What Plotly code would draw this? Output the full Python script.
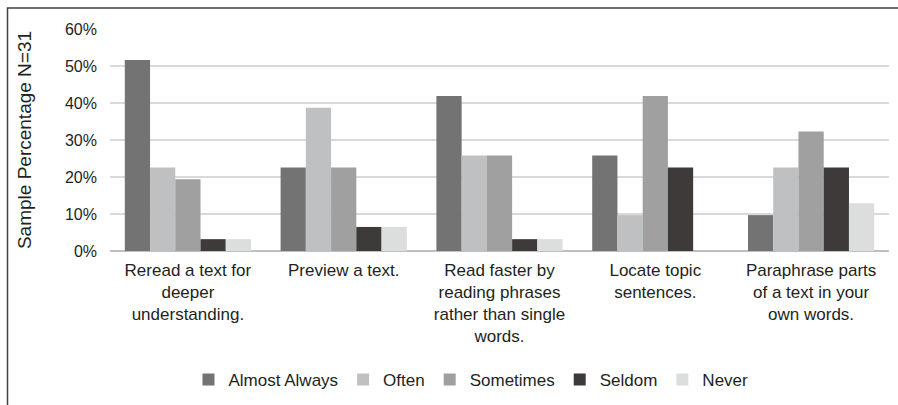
import plotly.graph_objects as go

categories = [
    "Reread a text for<br>deeper<br>understanding.",
    "Preview a text.",
    "Read faster by<br>reading phrases<br>rather than single<br>words.",
    "Locate topic<br>sentences.",
    "Paraphrase parts<br>of a text in your<br>own words.",
]
series_names = ["Almost Always", "Often", "Sometimes", "Seldom", "Never"]
almost_always = [0.516, 0.226, 0.419, 0.258, 0.097]
often = [0.226, 0.387, 0.258, 0.097, 0.226]
sometimes = [0.194, 0.226, 0.258, 0.419, 0.323]
seldom = [0.032, 0.065, 0.032, 0.226, 0.226]
never = [0.032, 0.065, 0.032, 0.0, 0.129]
colors = ["#737373", "#BFC0C2", "#A0A0A0", "#3E3A39", "#DCDDDD"]

values = [almost_always, often, sometimes, seldom, never]

fig = go.Figure()
for name, vals, c in zip(series_names, values, colors):
    fig.add_trace(go.Bar(x=categories, y=vals, name=name, marker_color=c,
                         marker_line_width=0))

W, H = 898, 405
ml, mr, mt, mb = 110, 9, 29, 154
pw, ph = W - ml - mr, H - mt - mb

def px_x(x):
    return (x - ml) / pw

def px_y(y):
    return (H - mb - y) / ph

fig.update_layout(
    width=W, height=H,
    margin=dict(l=ml, r=mr, t=mt, b=mb, autoexpand=False),
    paper_bgcolor="white", plot_bgcolor="white",
    barmode="group", bargap=0.19, bargroupgap=0,
    font=dict(family="Liberation Sans, Arial, sans-serif", size=16, color="#231F20"),
    showlegend=True,
    legend=dict(orientation="h", x=px_x(471), xanchor="center", y=px_y(380), yanchor="middle",
                font=dict(size=17), itemwidth=30, tracegroupgap=0),
    yaxis=dict(range=[0, 0.6], dtick=0.1, tickformat=".0%", gridcolor="#D9D9D9",
               gridwidth=1.5, zeroline=True, zerolinecolor="#BFBFBF", zerolinewidth=1.5,
               showline=False, ticks="", tickfont=dict(size=16), ticklabelstandoff=12,
               title=dict(text="Sample Percentage N=31", font=dict(size=19), standoff=28)),
    xaxis=dict(showline=False, ticks="", tickfont=dict(size=17), tickangle=0,
               ticklabelstandoff=7),
    shapes=[dict(type="path", xref="paper", yref="paper",
                 path=f"M {px_x(7.5)},{px_y(405)} L {px_x(7.5)},{px_y(8)} L {px_x(898)},{px_y(8)}",
                 line=dict(color="#404040", width=1.5))],
)

fig.write_html("out.html", config={"displayModeBar": False},
               post_script="document.body.style.margin='0';")
